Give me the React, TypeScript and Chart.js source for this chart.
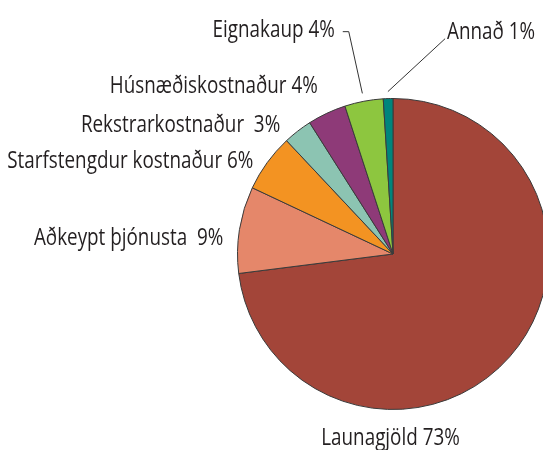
import React, { useEffect, useRef } from "react";
import { Chart, registerables } from "chart.js";

Chart.register(...registerables);

// ---- data ----
const categories = [
  "Launagjöld",
  "Aðkeypt þjónusta",
  "Starfstengdur kostnaður",
  "Rekstrarkostnaður",
  "Húsnæðiskostnaður",
  "Eignakaup",
  "Annað",
];
const shares = [73, 9, 6, 3, 4, 4, 1];
const labelTexts = [
  "Launagjöld 73%",
  "Aðkeypt þjónusta  9%",
  "Starfstengdur kostnaður 6%",
  "Rekstrarkostnaður  3%",
  "Húsnæðiskostnaður 4%",
  "Eignakaup 4%",
  "Annað 1%",
];
const sliceColors = [
  "#a34539",
  "#e5876a",
  "#f39322",
  "#8cc4b2",
  "#8e3a78",
  "#8dc63f",
  "#00857c",
];

// ---- label placement (polar, relative to pie centre: angle in deg, distance in px) ----
const labelAngle = [90.75, 183.0, 211.6, 227.2, 245.0, 255.0, 284.1];
const labelDist = [191, 170, 164, 166, 178, 225, 222];
const labelAlign: CanvasTextAlign[] = ["center", "right", "right", "right", "right", "right", "left"];
// leader lines: start offset from label anchor, optional elbow offset, end at radius + gap on slice mid-angle
const leaders: ({ sx: number; sy: number; ex?: number; ey?: number; gap: number } | null)[] = [
  null,
  null,
  null,
  null,
  null,
  { sx: 8, sy: -5, ex: 14, ey: -5, gap: 8 },
  { sx: -2, sy: 0, gap: 7 },
];

const FONT = '500 24px "Open Sans", "Noto Sans", sans-serif';
const TEXT_SCALE_X = 0.785;

const labelPlugin = {
  id: "pieLabels",
  afterDraw(chart: any) {
    const meta = chart.getDatasetMeta(0);
    const ctx = chart.ctx as CanvasRenderingContext2D;
    ctx.save();
    ctx.font = FONT;
    ctx.fillStyle = "#231f20";
    ctx.textBaseline = "alphabetic";
    meta.data.forEach((arc: any, i: number) => {
      const { x, y, outerRadius, startAngle, endAngle } = arc.getProps(
        ["x", "y", "outerRadius", "startAngle", "endAngle"],
        true
      );
      const a = (labelAngle[i] * Math.PI) / 180;
      const lx = x + Math.cos(a) * labelDist[i];
      const ly = y + Math.sin(a) * labelDist[i];
      ctx.save();
      ctx.translate(lx, ly);
      ctx.scale(TEXT_SCALE_X, 1);
      ctx.textAlign = labelAlign[i];
      ctx.fillText(labelTexts[i], 0, 0);
      ctx.restore();
      const ld = leaders[i];
      if (ld) {
        const mid = (startAngle + endAngle) / 2;
        const r = outerRadius + ld.gap;
        ctx.beginPath();
        ctx.strokeStyle = "#333";
        ctx.lineWidth = 1;
        ctx.moveTo(lx + ld.sx, ly + ld.sy);
        if (ld.ex !== undefined && ld.ey !== undefined) ctx.lineTo(lx + ld.ex, ly + ld.ey);
        ctx.lineTo(x + Math.cos(mid) * r, y + Math.sin(mid) * r);
        ctx.stroke();
      }
    });
    ctx.restore();
  },
};

export default function App() {
  const ref = useRef<HTMLCanvasElement>(null);
  useEffect(() => {
    document.body.style.margin = "0";
    document.body.style.overflow = "hidden";
    const chart = new Chart(ref.current!, {
      type: "pie",
      data: {
        labels: categories,
        datasets: [
          {
            data: shares,
            backgroundColor: sliceColors,
            borderColor: "#3a3a3a",
            borderWidth: 1,
            hoverOffset: 0,
          },
        ],
      },
      options: {
        responsive: false,
        animation: false,
        layout: { padding: { left: 237, right: 51, top: 98, bottom: 40 } },
        plugins: {
          legend: { display: false },
          tooltip: { enabled: false },
        },
      },
      plugins: [labelPlugin],
    });
    return () => chart.destroy();
  }, []);
  return (
    <div style={{ width: 543, height: 450, overflow: "hidden", position: "relative", background: "#fff" }}>
      <canvas ref={ref} width={600} height={450} style={{ display: "block" }} />
    </div>
  );
}
